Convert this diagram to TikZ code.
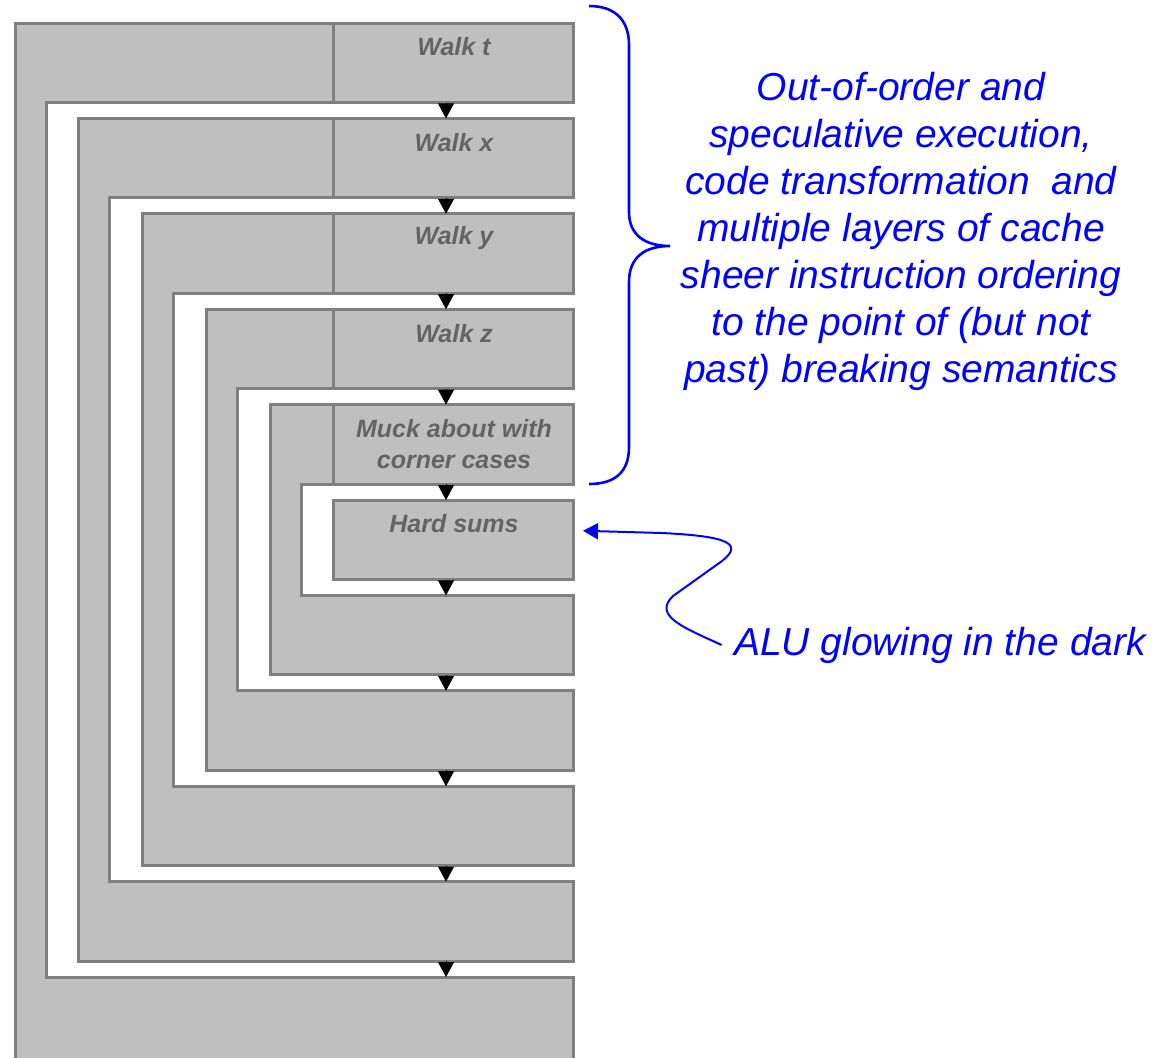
\documentclass[tikz,border=0pt]{standalone}
\usepackage{fontspec}
\setmainfont{Liberation Sans}
\usetikzlibrary{arrows.meta}
\definecolor{shell}{HTML}{BFBFBF}
\definecolor{rim}{HTML}{7F7F7F}
\definecolor{ink}{HTML}{646464}
\definecolor{note}{HTML}{0000FF}

\tikzset{
  shellpath/.style={fill=shell, draw=rim, line width=1.5pt, line join=miter},
  stage/.style={shellpath, rectangle, minimum width=120pt, minimum height=39.75pt,
                inner sep=0pt, outer sep=0pt},
  slot/.style={rectangle, minimum width=120pt, minimum height=39.75pt,
               inner sep=0pt, outer sep=0pt},
  tag/.style={text=ink, font=\bfseries\itshape\fontsize{12.5}{15.5}\selectfont,
              align=center, inner sep=0pt},
  flow/.style={-{Triangle[length=7.5pt,width=8pt]}, line width=0.4pt, black},
  remark/.style={text=note, font=\itshape\fontsize{19.5}{23.5}\selectfont,
                 align=center, inner sep=0pt},
  pointer/.style={note, line width=1pt, -{Triangle[length=7.5pt,width=8pt]}},
}

\begin{document}
\begin{tikzpicture}[x=0.5pt, y=-0.5pt]
  \useasboundingbox (0,0) rectangle (1171,1057);
  \clip (0,0) rectangle (1171,1057);

  % nested C-shaped loop bodies, outermost first
  \foreach \i in {0,...,4} {
    \pgfmathsetmacro\L{15+63.75*\i}
    \pgfmathsetmacro\I{\L+31}
    \pgfmathsetmacro\T{23+95.4*\i}
    \pgfmathsetmacro\Tb{\T+79.5}
    \pgfmathsetmacro\B{23+95.4*(10-\i)}
    \pgfmathsetmacro\E{ifthenelse(\i==0,1085,\B+79.5)}
    \draw[shellpath] (\L,\T) -- (573,\T) -- (573,\Tb) -- (\I,\Tb) -- (\I,\B)
      -- (573,\B) -- (573,\E) -- (\L,\E) -- cycle;
  }

  % loop headers and the innermost body
  \node[stage] (walkt) at (453,62.75)  {};
  \node[stage] (walkx) at (453,158.15) {};
  \node[stage] (walky) at (453,253.55) {};
  \node[stage] (walkz) at (453,348.95) {};
  \node[stage] (muck)  at (453,444.35) {};
  \node[stage] (hard)  at (453,539.75) {};

  % loop tails (right part of each bottom bar)
  \node[slot] (tail4) at (453,635.15)  {};
  \node[slot] (tail3) at (453,730.55)  {};
  \node[slot] (tail2) at (453,825.95)  {};
  \node[slot] (tail1) at (453,921.35)  {};
  \node[slot] (tail0) at (453,1016.75) {};

  % labels
  \node[tag] (lt) at (454,47)    {Walk t};
  \node[tag] (lx) at (454,142.4) {Walk x};
  \node[tag] (ly) at (454,237.8) {Walk y};
  \node[tag] (lz) at (454,333.2) {Walk z};
  \node[tag] (lm) at (454,444.35) {Muck about with\\corner cases};
  \node[tag] (lh) at (454,524)   {Hard sums};

  % control flow
  \foreach \a/\b in {walkt/walkx, walkx/walky, walky/walkz, walkz/muck, muck/hard,
                     hard/tail4, tail4/tail3, tail3/tail2, tail2/tail1, tail1/tail0}
    \draw[flow] ([xshift=-3.5pt]\a.south) -- ([xshift=-3.5pt]\b.north);

  % brace over the walking stages
  \draw[note, line width=1.3pt]
    (589,6) .. controls (615,6) and (629,20) .. (629,45) -- (629,212)
    .. controls (629,235) and (645,246) .. (670,246)
    .. controls (645,246) and (629,257) .. (629,282) -- (629,447)
    .. controls (629,472) and (615,484) .. (589,484);

  \node[remark] (overhead) at (901,231)
    {Out-of-order and\\speculative execution,\\code transformation\ \ and\\multiple layers of cache\\sheer instruction ordering\\to the point of (but not\\past) breaking semantics};

  \node[remark, inner xsep=6pt] (alu) at (940,645) {ALU glowing in the dark};

  \draw[pointer] (alu.west) .. controls (685,628) and (652,616) .. (673,596)
    -- (722,561) .. controls (745,543) and (725,536) .. (662,533)
    -- ([xshift=5pt,yshift=4.5pt]hard.east);
\end{tikzpicture}
\end{document}
